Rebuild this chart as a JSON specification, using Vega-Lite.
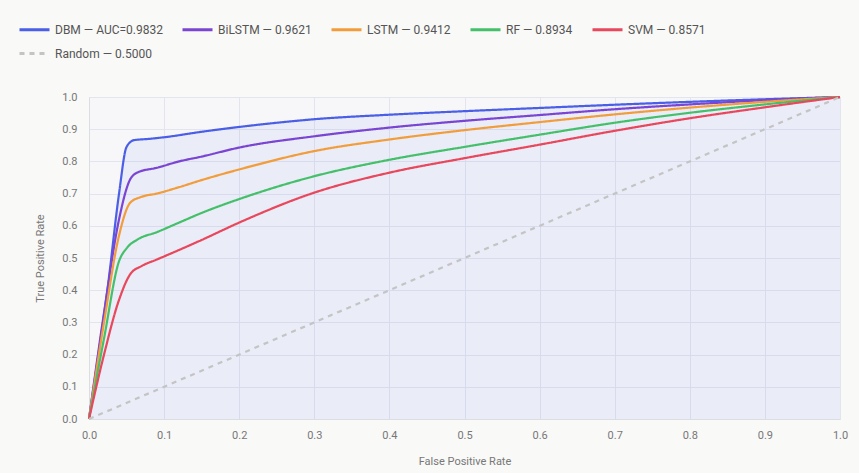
{
  "$schema": "https://vega.github.io/schema/vega-lite/v6.json",
  "width": 751,
  "height": 322,
  "autosize": {"type": "none"},
  "padding": {"left": 89, "top": 97, "right": 19, "bottom": 54},
  "background": "#f9f9f7",
  "config": {
    "font": "Roboto",
    "view": {"fill": "#f7f7f9", "stroke": null},
    "axis": {
      "gridColor": "#e3e5ee",
      "gridWidth": 1,
      "domainColor": "#dcdde3",
      "tickColor": "#dcdde3",
      "ticks": false,
      "labelColor": "#777777",
      "labelFontSize": 11,
      "labelOverlap": false,
      "labelFlush": false,
      "titleColor": "#777777",
      "titleFontSize": 11,
      "titleFontWeight": "normal"
    },
    "legend": {
      "labelColor": "#555555",
      "labelFontSize": 12,
      "symbolType": "stroke",
      "symbolSize": 900,
      "symbolStrokeWidth": 3,
      "columnPadding": 13,
      "rowPadding": 1
    }
  },
  "data": {
    "values": [
      {"model": "DBM — AUC=0.9832", "fpr": 0, "tpr": 0},
      {"model": "DBM — AUC=0.9832", "fpr": 0.01, "tpr": 0.16},
      {"model": "DBM — AUC=0.9832", "fpr": 0.025, "tpr": 0.41},
      {"model": "DBM — AUC=0.9832", "fpr": 0.04, "tpr": 0.7},
      {"model": "DBM — AUC=0.9832", "fpr": 0.05, "tpr": 0.845},
      {"model": "DBM — AUC=0.9832", "fpr": 0.06, "tpr": 0.866},
      {"model": "DBM — AUC=0.9832", "fpr": 0.08, "tpr": 0.87},
      {"model": "DBM — AUC=0.9832", "fpr": 0.1, "tpr": 0.875},
      {"model": "DBM — AUC=0.9832", "fpr": 0.15, "tpr": 0.892},
      {"model": "DBM — AUC=0.9832", "fpr": 0.2, "tpr": 0.907},
      {"model": "DBM — AUC=0.9832", "fpr": 0.25, "tpr": 0.92},
      {"model": "DBM — AUC=0.9832", "fpr": 0.3, "tpr": 0.931},
      {"model": "DBM — AUC=0.9832", "fpr": 0.4, "tpr": 0.945},
      {"model": "DBM — AUC=0.9832", "fpr": 0.5, "tpr": 0.956},
      {"model": "DBM — AUC=0.9832", "fpr": 0.6, "tpr": 0.966},
      {"model": "DBM — AUC=0.9832", "fpr": 0.7, "tpr": 0.976},
      {"model": "DBM — AUC=0.9832", "fpr": 0.8, "tpr": 0.985},
      {"model": "DBM — AUC=0.9832", "fpr": 0.9, "tpr": 0.993},
      {"model": "DBM — AUC=0.9832", "fpr": 1, "tpr": 1},
      {"model": "BiLSTM — 0.9621", "fpr": 0, "tpr": 0},
      {"model": "BiLSTM — 0.9621", "fpr": 0.02, "tpr": 0.33},
      {"model": "BiLSTM — 0.9621", "fpr": 0.04, "tpr": 0.62},
      {"model": "BiLSTM — 0.9621", "fpr": 0.055, "tpr": 0.745},
      {"model": "BiLSTM — 0.9621", "fpr": 0.065, "tpr": 0.766},
      {"model": "BiLSTM — 0.9621", "fpr": 0.09, "tpr": 0.78},
      {"model": "BiLSTM — 0.9621", "fpr": 0.12, "tpr": 0.8},
      {"model": "BiLSTM — 0.9621", "fpr": 0.15, "tpr": 0.815},
      {"model": "BiLSTM — 0.9621", "fpr": 0.2, "tpr": 0.843},
      {"model": "BiLSTM — 0.9621", "fpr": 0.3, "tpr": 0.878},
      {"model": "BiLSTM — 0.9621", "fpr": 0.4, "tpr": 0.905},
      {"model": "BiLSTM — 0.9621", "fpr": 0.5, "tpr": 0.926},
      {"model": "BiLSTM — 0.9621", "fpr": 0.6, "tpr": 0.944},
      {"model": "BiLSTM — 0.9621", "fpr": 0.7, "tpr": 0.962},
      {"model": "BiLSTM — 0.9621", "fpr": 0.8, "tpr": 0.977},
      {"model": "BiLSTM — 0.9621", "fpr": 0.9, "tpr": 0.99},
      {"model": "BiLSTM — 0.9621", "fpr": 1, "tpr": 1},
      {"model": "LSTM — 0.9412", "fpr": 0, "tpr": 0},
      {"model": "LSTM — 0.9412", "fpr": 0.02, "tpr": 0.3},
      {"model": "LSTM — 0.9412", "fpr": 0.04, "tpr": 0.57},
      {"model": "LSTM — 0.9412", "fpr": 0.055, "tpr": 0.672},
      {"model": "LSTM — 0.9412", "fpr": 0.07, "tpr": 0.69},
      {"model": "LSTM — 0.9412", "fpr": 0.09, "tpr": 0.7},
      {"model": "LSTM — 0.9412", "fpr": 0.12, "tpr": 0.72},
      {"model": "LSTM — 0.9412", "fpr": 0.15, "tpr": 0.742},
      {"model": "LSTM — 0.9412", "fpr": 0.2, "tpr": 0.775},
      {"model": "LSTM — 0.9412", "fpr": 0.3, "tpr": 0.832},
      {"model": "LSTM — 0.9412", "fpr": 0.4, "tpr": 0.868},
      {"model": "LSTM — 0.9412", "fpr": 0.5, "tpr": 0.897},
      {"model": "LSTM — 0.9412", "fpr": 0.6, "tpr": 0.922},
      {"model": "LSTM — 0.9412", "fpr": 0.7, "tpr": 0.946},
      {"model": "LSTM — 0.9412", "fpr": 0.8, "tpr": 0.967},
      {"model": "LSTM — 0.9412", "fpr": 0.9, "tpr": 0.985},
      {"model": "LSTM — 0.9412", "fpr": 1, "tpr": 1},
      {"model": "RF — 0.8934", "fpr": 0, "tpr": 0},
      {"model": "RF — 0.8934", "fpr": 0.02, "tpr": 0.25},
      {"model": "RF — 0.8934", "fpr": 0.04, "tpr": 0.49},
      {"model": "RF — 0.8934", "fpr": 0.05, "tpr": 0.53},
      {"model": "RF — 0.8934", "fpr": 0.065, "tpr": 0.558},
      {"model": "RF — 0.8934", "fpr": 0.09, "tpr": 0.58},
      {"model": "RF — 0.8934", "fpr": 0.12, "tpr": 0.61},
      {"model": "RF — 0.8934", "fpr": 0.15, "tpr": 0.64},
      {"model": "RF — 0.8934", "fpr": 0.2, "tpr": 0.683},
      {"model": "RF — 0.8934", "fpr": 0.3, "tpr": 0.754},
      {"model": "RF — 0.8934", "fpr": 0.4, "tpr": 0.805},
      {"model": "RF — 0.8934", "fpr": 0.5, "tpr": 0.845},
      {"model": "RF — 0.8934", "fpr": 0.6, "tpr": 0.883},
      {"model": "RF — 0.8934", "fpr": 0.7, "tpr": 0.92},
      {"model": "RF — 0.8934", "fpr": 0.8, "tpr": 0.951},
      {"model": "RF — 0.8934", "fpr": 0.9, "tpr": 0.977},
      {"model": "RF — 0.8934", "fpr": 1, "tpr": 1},
      {"model": "SVM — 0.8571", "fpr": 0, "tpr": 0},
      {"model": "SVM — 0.8571", "fpr": 0.02, "tpr": 0.2},
      {"model": "SVM — 0.8571", "fpr": 0.04, "tpr": 0.37},
      {"model": "SVM — 0.8571", "fpr": 0.055, "tpr": 0.45},
      {"model": "SVM — 0.8571", "fpr": 0.07, "tpr": 0.475},
      {"model": "SVM — 0.8571", "fpr": 0.09, "tpr": 0.495},
      {"model": "SVM — 0.8571", "fpr": 0.12, "tpr": 0.525},
      {"model": "SVM — 0.8571", "fpr": 0.15, "tpr": 0.556},
      {"model": "SVM — 0.8571", "fpr": 0.2, "tpr": 0.61},
      {"model": "SVM — 0.8571", "fpr": 0.3, "tpr": 0.703},
      {"model": "SVM — 0.8571", "fpr": 0.4, "tpr": 0.765},
      {"model": "SVM — 0.8571", "fpr": 0.5, "tpr": 0.81},
      {"model": "SVM — 0.8571", "fpr": 0.6, "tpr": 0.852},
      {"model": "SVM — 0.8571", "fpr": 0.7, "tpr": 0.895},
      {"model": "SVM — 0.8571", "fpr": 0.8, "tpr": 0.934},
      {"model": "SVM — 0.8571", "fpr": 0.9, "tpr": 0.968},
      {"model": "SVM — 0.8571", "fpr": 1, "tpr": 1},
      {"model": "Random — 0.5000", "fpr": 0, "tpr": 0},
      {"model": "Random — 0.5000", "fpr": 1, "tpr": 1}
    ]
  },
  "layer": [
    {
      "transform": [{"filter": "datum.model === 'DBM — AUC=0.9832'"}],
      "mark": {"type": "area", "color": "#4a5ee6", "opacity": 0.07, "interpolate": "monotone"},
      "encoding": {
        "x": {"field": "fpr", "type": "quantitative"},
        "y": {"field": "tpr", "type": "quantitative"}
      }
    },
    {
      "mark": {"type": "line", "strokeWidth": 2.2, "interpolate": "monotone"},
      "encoding": {
        "x": {
          "field": "fpr", "type": "quantitative", "title": "False Positive Rate",
          "scale": {"domain": [0, 1]},
          "axis": {"values": [0, 0.1, 0.2, 0.3, 0.4, 0.5, 0.6, 0.7, 0.8, 0.9, 1], "tickCount": 11, "format": ".1f", "labelPadding": 10, "titlePadding": 15}
        },
        "y": {
          "field": "tpr", "type": "quantitative", "title": "True Positive Rate",
          "scale": {"domain": [0, 1]},
          "axis": {"values": [0, 0.1, 0.2, 0.3, 0.4, 0.5, 0.6, 0.7, 0.8, 0.9, 1], "tickCount": 11, "format": ".1f", "labelPadding": 12, "titlePadding": 16}
        },
        "color": {
          "field": "model", "type": "nominal", "title": null,
          "scale": {
            "domain": ["DBM — AUC=0.9832", "BiLSTM — 0.9621", "LSTM — 0.9412", "RF — 0.8934", "SVM — 0.8571", "Random — 0.5000"],
            "range": ["#4a5ee6", "#7a45d2", "#f29d3c", "#45c06a", "#e8475c", "#c4c4c4"]
          },
          "legend": {"orient": "none", "legendX": -71, "legendY": -84, "direction": "horizontal", "columns": 5}
        },
        "strokeDash": {
          "field": "model", "type": "nominal", "title": null,
          "scale": {
            "domain": ["DBM — AUC=0.9832", "BiLSTM — 0.9621", "LSTM — 0.9412", "RF — 0.8934", "SVM — 0.8571", "Random — 0.5000"],
            "range": [[1, 0], [1, 0], [1, 0], [1, 0], [1, 0], [5, 5]]
          },
          "legend": {"orient": "none", "legendX": -71, "legendY": -84, "direction": "horizontal", "columns": 5}
        },
        "order": {"field": "fpr", "type": "quantitative"}
      }
    }
  ]
}
